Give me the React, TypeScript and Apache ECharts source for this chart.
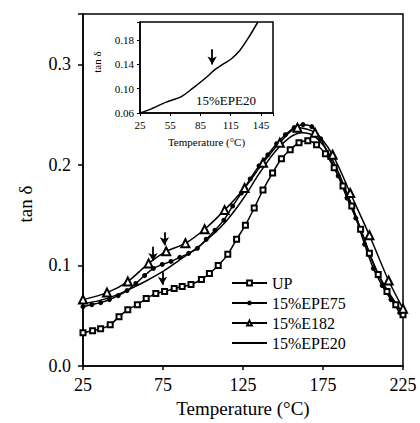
import React, { useEffect, useRef } from "react";
import * as echarts from "echarts";

// Main chart data (Temperature °C, tan δ)
const T_UP = [25, 31, 36, 42, 47.5, 53, 59, 64.5, 70.5, 76, 82, 87, 92.5, 99, 104, 109.5, 115.5, 121, 126.5, 132, 137.5, 143.5, 149, 154.5, 160, 165.5, 171, 176.5, 182, 187.5, 193, 198.5, 204, 209.5, 215, 220.5, 225];
const V_UP = [0.033, 0.035, 0.037, 0.041, 0.049, 0.056, 0.061, 0.067, 0.072, 0.074, 0.077, 0.079, 0.081, 0.086, 0.092, 0.100, 0.111, 0.126, 0.140, 0.157, 0.175, 0.192, 0.206, 0.215, 0.222, 0.224, 0.220, 0.211, 0.197, 0.179, 0.159, 0.136, 0.112, 0.091, 0.074, 0.061, 0.051];

const T_EPE75 = [25, 30.5, 36, 41.5, 47, 52.5, 58, 63.5, 69, 74.5, 80, 85.5, 91, 96.5, 102, 107.5, 113, 118.5, 124, 129.5, 135, 140.5, 146, 151.5, 157, 162.5, 168, 173.5, 179, 184.5, 190, 195.5, 201, 206.5, 212, 217.5, 223];
const V_EPE75 = [0.059, 0.061, 0.063, 0.066, 0.070, 0.075, 0.082, 0.090, 0.097, 0.101, 0.104, 0.108, 0.112, 0.117, 0.126, 0.135, 0.145, 0.159, 0.172, 0.186, 0.199, 0.210, 0.221, 0.230, 0.237, 0.240, 0.238, 0.226, 0.208, 0.189, 0.167, 0.147, 0.121, 0.097, 0.080, 0.066, 0.053];

const T_E182 = [25, 40, 53, 66, 77, 89, 101, 113.5, 126, 137.5, 148, 159, 170, 181, 192, 204, 216, 225];
const V_E182 = [0.066, 0.073, 0.084, 0.102, 0.114, 0.122, 0.136, 0.155, 0.177, 0.202, 0.222, 0.237, 0.232, 0.210, 0.172, 0.130, 0.085, 0.057];

const T_EPE20 = [25, 35, 45, 55, 65, 75, 85, 95, 105, 115, 125, 135, 145, 155, 162, 170, 180, 190, 200, 205, 210, 217, 225];
const V_EPE20 = [0.062, 0.065, 0.070, 0.077, 0.085, 0.094, 0.105, 0.116, 0.129, 0.145, 0.166, 0.191, 0.213, 0.228, 0.232, 0.228, 0.208, 0.172, 0.130, 0.108, 0.090, 0.071, 0.052];

// Inset data (15%EPE20)
const T_INSET = [25, 35, 51, 66, 77.5, 91, 99, 107, 115.5, 124, 133, 142];
const V_INSET = [0.060, 0.066, 0.078, 0.087, 0.101, 0.119, 0.131, 0.140, 0.149, 0.163, 0.185, 0.21];

// Arrows: [T, top value, tip value]
const ARROWS_MAIN = [
  [75.9, 0.133, 0.120],
  [68.75, 0.1185, 0.1043],
  [74.7, 0.0933, 0.0809],
];
const ARROWS_INSET = [[96.6, 0.165, 0.14]];

const X_TICKS_MAIN = [25, 75, 125, 175, 225];
const Y_TICKS_MAIN = [0, 0.1, 0.2, 0.3];

const SERIES_NAMES = ["UP", "15%EPE75", "15%E182", "15%EPE20"];

const zip = (t: number[], v: number[]) => t.map((x, i) => [x, v[i]]);
const FONT = "Liberation Serif";

export default function App() {
  const ref = useRef<HTMLDivElement>(null);
  useEffect(() => {
    if (!ref.current) return;
    const chart = echarts.init(ref.current, null, { renderer: "svg" });
    const axisLine = { show: true, lineStyle: { color: "#000", width: 1.5 } };
    const lineStyle = { color: "#000", width: 1.5 };
    const arrowLine = (arrows: number[][]) => ({
      silent: true,
      symbol: ["none", "arrow"],
      symbolSize: [7, 8],
      label: { show: false },
      lineStyle: { color: "#000", width: 1.8, type: "solid" },
      data: arrows.map((a) => [{ coord: [a[0], a[1]] }, { coord: [a[0], a[2]] }]),
    });
    chart.setOption({
      animation: false,
      backgroundColor: "#fff",
      textStyle: { fontFamily: FONT, color: "#000" },
      grid: [
        { left: 83, right: 17, top: 14, bottom: 57, show: true, borderColor: "#000", borderWidth: 1.5, backgroundColor: "transparent" },
        { left: 140, right: 147, top: 22, bottom: 310, show: true, borderColor: "#000", borderWidth: 1.5, backgroundColor: "#fff" },
      ],
      legend: {
        data: SERIES_NAMES.map((n) => (n === "15%EPE20" ? { name: n, itemStyle: { opacity: 0 } } : { name: n })),
        orient: "vertical",
        left: 226,
        top: 270,
        itemWidth: 35,
        itemHeight: 6,
        itemGap: 4,
        textStyle: { fontFamily: FONT, fontSize: 16, color: "#000", lineHeight: 16 },
      },
      xAxis: [
        {
          gridIndex: 0, type: "value", min: 25, max: 225, interval: 50,
          axisLine, splitLine: { show: false },
          axisTick: { show: true, length: 4, lineStyle: { color: "#000", width: 1.5 } },
          axisLabel: { fontFamily: FONT, fontSize: 18, color: "#000", margin: 10,
            formatter: (v: number) => (X_TICKS_MAIN.includes(v) ? String(v) : "") },
          name: "Temperature (°C)", nameLocation: "middle", nameGap: 28,
          nameTextStyle: { fontFamily: FONT, fontSize: 19, color: "#000" },
        },
        {
          gridIndex: 1, type: "value", min: 25, max: 157, interval: 30,
          axisLine, splitLine: { show: false },
          axisTick: { show: true, length: 3, lineStyle: { color: "#000", width: 1 } },
          axisLabel: { fontFamily: FONT, fontSize: 11, color: "#000", margin: 6,
            formatter: (v: number) => (v > 150 ? "" : String(v)) },
          name: "Temperature (°C)", nameLocation: "middle", nameGap: 23,
          nameTextStyle: { fontFamily: FONT, fontSize: 11, color: "#000" },
        },
      ],
      yAxis: [
        {
          gridIndex: 0, type: "value", min: 0, max: 0.35, interval: 0.1,
          axisLine, splitLine: { show: false },
          axisTick: { show: true, length: 5, lineStyle: { color: "#000", width: 1.5 } },
          axisLabel: { fontFamily: FONT, fontSize: 18, color: "#000", margin: 12,
            formatter: (v: number) => (Y_TICKS_MAIN.some((t) => Math.abs(t - v) < 1e-6) ? v.toFixed(1) : "") },
        },
        {
          gridIndex: 1, type: "value", min: 0.06, max: 0.21, interval: 0.04,
          axisLine, splitLine: { show: false },
          axisTick: { show: true, length: 3, lineStyle: { color: "#000", width: 1 } },
          axisLabel: { fontFamily: FONT, fontSize: 11, color: "#000", margin: 6,
            formatter: (v: number) => (v > 0.2 ? "" : v.toFixed(2)) },
        },
      ],
      graphic: [
        { type: "text", x: 25, y: 204, rotation: Math.PI / 2,
          style: { text: "tan δ", font: `19px "${FONT}"`, fill: "#000", align: "center", verticalAlign: "middle" } },
        { type: "text", x: 97, y: 62, rotation: Math.PI / 2,
          style: { text: "tan δ", font: `11px "${FONT}"`, fill: "#000", align: "center", verticalAlign: "middle" } },
        { type: "text", x: 226, y: 100, z: 10,
          style: { text: "15%EPE20", font: `13px "${FONT}"`, fill: "#000", align: "center", verticalAlign: "middle" } },
      ],
      series: [
        { name: "UP", type: "line", xAxisIndex: 0, yAxisIndex: 0, data: zip(T_UP, V_UP),
          symbol: "emptyRect", symbolSize: 5, smooth: 0.3, lineStyle, itemStyle: { color: "#000", borderColor: "#000", borderWidth: 1.2 } },
        { name: "15%EPE75", type: "line", xAxisIndex: 0, yAxisIndex: 0, data: zip(T_EPE75, V_EPE75),
          symbol: "circle", symbolSize: 5, smooth: 0.3, lineStyle, itemStyle: { color: "#000" } },
        { name: "15%E182", type: "line", xAxisIndex: 0, yAxisIndex: 0, data: zip(T_E182, V_E182),
          symbol: "emptyTriangle", symbolSize: 8, smooth: 0.3, lineStyle, itemStyle: { color: "#000", borderColor: "#000", borderWidth: 1.2 },
          markLine: arrowLine(ARROWS_MAIN) },
        { name: "15%EPE20", type: "line", xAxisIndex: 0, yAxisIndex: 0, data: zip(T_EPE20, V_EPE20),
          symbol: "none", smooth: 0.3, lineStyle, itemStyle: { color: "#000" } },
        { name: "inset", type: "line", xAxisIndex: 1, yAxisIndex: 1, data: zip(T_INSET, V_INSET),
          symbol: "none", smooth: 0.3, lineStyle, itemStyle: { color: "#000" },
          markLine: arrowLine(ARROWS_INSET) },
      ],
    });
    return () => chart.dispose();
  }, []);
  return <div ref={ref} style={{ position: "fixed", left: 0, top: 0, width: 420, height: 423 }} />;
}
